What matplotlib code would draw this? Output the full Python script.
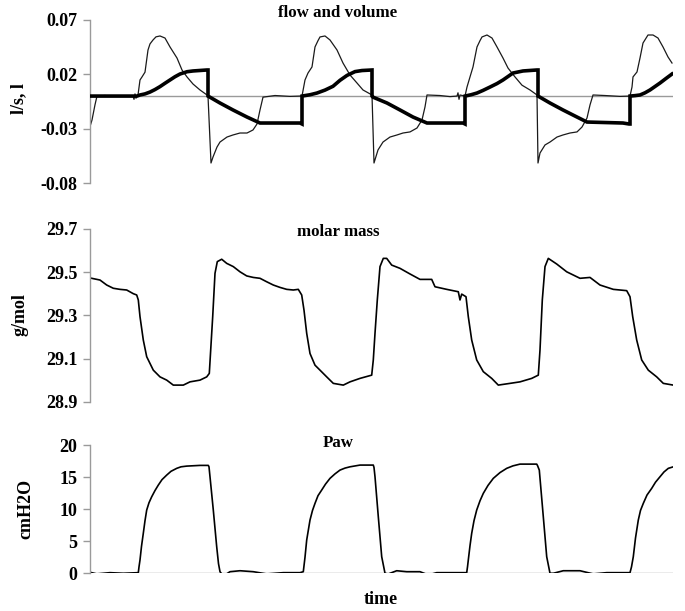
import matplotlib
matplotlib.use("Agg")
import matplotlib.pyplot as plt

# ---------------- data (time in arbitrary units) ----------------
flow_t = [0, 2, 5, 7, 15, 25, 35, 43, 44, 45, 46, 47, 48, 50, 52, 55, 58, 60, 63, 66, 70, 75, 80, 87, 92, 97,
          103, 110, 117, 118, 121, 123, 127, 130, 137, 143, 150, 157, 163, 167, 170, 173, 185, 200, 210,
          212, 215, 218, 222, 225, 228, 230, 235, 240, 247, 253, 260, 267, 273, 282, 284, 288, 293, 300, 307,
          313, 320, 327, 332, 335, 337, 350, 360, 367, 368, 369, 370, 375, 377, 380, 383, 387, 390, 392, 397,
          402, 407, 413, 418, 425, 432, 440, 447, 448, 450, 455, 460, 467, 473, 480, 487, 492, 497, 500,
          503, 515, 530, 540, 542, 543, 547, 550, 553, 558, 563, 568, 573, 578, 582]
flow_v = [-0.028, -0.022, -0.008, 0.0, 0.0005, -0.0003, 0.0003, 0.0, -0.003, 0.002, -0.002, 0.0, 0.001,
          0.0148, 0.0176, 0.022, 0.0424, 0.048, 0.0516, 0.0545, 0.0553, 0.0534, 0.0452, 0.035, 0.024, 0.0176,
          0.0111, 0.0056, 0.001, 0.0, -0.0616, -0.0561, -0.0469, -0.0423, -0.0377, -0.0358, -0.034,
          -0.034, -0.0312, -0.0257, -0.0128, -0.001, 0.0005, -0.0003, 0.0,
          0.0, 0.0148, 0.0212, 0.0268, 0.0452, 0.051, 0.0544, 0.0553, 0.0516, 0.0424, 0.0304, 0.0194, 0.012,
          0.0056, 0.001, -0.0616, -0.0496, -0.0423, -0.0377, -0.0358, -0.034, -0.033, -0.0294, -0.022,
          -0.010, 0.001, 0.0005, -0.0005, 0.0, 0.003, -0.003, 0.001, 0.0, 0.0083, 0.0176, 0.0268, 0.0452,
          0.051, 0.0544, 0.0562, 0.0534, 0.0452, 0.035, 0.0258, 0.0176, 0.010, 0.0056, 0.001, -0.0616, -0.0524,
          -0.045, -0.0423, -0.0377, -0.0358, -0.034, -0.033, -0.0285, -0.0202, -0.0082, 0.001, 0.0005,
          -0.0003, 0.0, 0.0083, 0.0176, 0.0222, 0.035, 0.0488, 0.0562, 0.0562, 0.0534, 0.0452, 0.036, 0.0304]

volume_t = [0, 47, 50, 55, 60, 65, 70, 75, 80, 85, 90, 97, 103, 117, 118, 118, 130, 143, 157, 170, 177, 210,
            212, 212, 220, 227, 235, 243, 250, 257, 265, 272, 282, 282, 283, 297, 310, 323, 337, 373, 375, 375,
            381, 387, 393, 400, 407, 413, 423, 433, 447, 448, 448, 460, 473, 487, 497, 533, 539, 540, 540,
            545, 550, 555, 560, 565, 570, 576, 582]
volume_v = [0.0, 0.0, 0.001, 0.002, 0.0037, 0.006, 0.0087, 0.0118, 0.0148, 0.0178, 0.0203, 0.0224, 0.0231,
            0.024, 0.024, 0.0, -0.0064, -0.0128, -0.0193, -0.0248, -0.0248, -0.0248, -0.0257, 0.0,
            0.0012, 0.0028, 0.0055, 0.009, 0.0145, 0.019, 0.0225, 0.0235, 0.024, 0.0, -0.001, -0.0064,
            -0.0128, -0.0193, -0.0248, -0.0248, -0.0257, 0.0,
            0.0012, 0.0028, 0.0052, 0.0083, 0.0115, 0.0148, 0.0212, 0.0231, 0.024, 0.024, 0.0, -0.0064,
            -0.0128, -0.0193, -0.0239, -0.0248, -0.0257, -0.0257, 0.0,
            0.0004, 0.001, 0.003, 0.0056, 0.0088, 0.012, 0.0162, 0.0203]

molar_t = [1.7, 10, 16.7, 23.3, 30, 36.7, 43.3, 46.7, 48.3, 50, 53.3, 56.7, 63.3, 70, 76.7, 83.3, 93.3,
           100, 110, 116.7, 119.3, 120.7, 122.7, 125, 127.3, 131.7, 136.7, 143.3, 150, 156.7, 163.3, 170,
           176.7, 183.3, 190, 196.7, 203.3, 208.3, 211.7, 214, 216.7, 220, 225, 230, 236.7, 243.3, 253.3,
           260, 270, 281.7, 283.3, 285, 287.3, 290, 293.3, 296.7, 301.7, 310, 320, 330, 341.7, 345, 356.7,
           368.3, 370, 371.7, 376, 378.3, 381.7, 386.7, 393.3, 401.7, 408.3, 420, 430, 441.7, 448.3, 450,
           452.3, 455, 458.3, 466.7, 476.7, 490, 500, 510, 523.3, 536.7, 540, 542.7, 546.7, 551.7, 558.3,
           566.7, 573.3, 583.3]
molar_v = [29.471, 29.463, 29.44, 29.425, 29.42, 29.417, 29.40, 29.394, 29.371, 29.294, 29.186, 29.109,
           29.047, 29.016, 29.001, 28.978, 28.978, 28.993, 29.001, 29.016, 29.032, 29.14, 29.294, 29.494,
           29.548, 29.559, 29.54, 29.525, 29.501, 29.482, 29.475, 29.471, 29.455, 29.44, 29.429, 29.42,
           29.417, 29.42, 29.394, 29.324, 29.217, 29.124, 29.07, 29.047, 29.016, 28.986, 28.978, 28.993,
           29.009, 29.024, 29.094, 29.217, 29.371, 29.525, 29.563, 29.563, 29.532, 29.517, 29.491, 29.466,
           29.466, 29.432, 29.42, 29.409, 29.371, 29.398, 29.386, 29.294, 29.186, 29.094, 29.04, 29.009,
           28.978, 28.986, 28.993, 29.009, 29.024, 29.14, 29.371, 29.525, 29.563, 29.537, 29.501, 29.471,
           29.475, 29.44, 29.42, 29.414, 29.386, 29.294, 29.186, 29.094, 29.047, 29.016, 28.986, 28.978]

paw_t = [1.7, 6.7, 20, 33.3, 48.3, 49, 50, 51.5, 53.3, 55, 56.7, 59, 61.7, 65, 68.3, 72, 76.7, 81, 86.7,
         91, 96.7, 110, 118.3, 119, 120, 123.3, 126.7, 128.5, 130, 133.3, 140, 150, 163.3, 176.7, 193.3,
         210, 213.3, 215, 216.7, 220, 222.5, 225, 228, 231.7, 235.5, 240, 245, 250, 255, 260, 270, 283.3,
         284, 285, 288.3, 291.7, 295, 298.3, 306.7, 316.7, 330, 338.3, 346.7, 376.7, 377.5, 378.3, 380,
         381.7, 384, 386.7, 390, 393.3, 398, 403.3, 410, 416.7, 423, 430, 446.7, 447.5, 449.3, 453.3,
         456.7, 460, 463.3, 473.3, 490, 503.3, 516.7, 540, 541.5, 543.3, 545.5, 548.3, 550.5, 553.3, 557,
         561.7, 565.5, 570, 574, 578.3, 583.3]
paw_v = [0.1, -0.1, 0.1, 0.0, 0.1, 1.0, 2.07, 4.2, 6.23, 8.2, 9.86, 11.0, 11.93, 12.9, 13.75, 14.6, 15.31,
         15.9, 16.36, 16.6, 16.71, 16.82, 16.82, 16.6, 15.05, 9.86, 4.14, 1.5, 0.25, -0.42, 0.25, 0.4, 0.25,
         -0.1, 0.1, 0.1, 0.25, 2.5, 5.19, 8.3, 9.8, 10.9, 12.1, 12.98, 13.9, 14.8, 15.5, 16.09, 16.4, 16.6,
         16.87, 16.87, 16.5, 15.05, 8.82, 2.59, 0.0, -0.1, 0.4, 0.25, 0.25, -0.26, 0.1, 0.1, 1.0, 2.07,
         4.3, 6.23, 8.2, 9.86, 11.3, 12.46, 13.7, 14.8, 15.7, 16.36, 16.75, 17.02, 17.02, 16.8, 16.09,
         8.82, 2.59, 0.0, 0.0, 0.4, 0.4, -0.1, 0.1, 0.1, 1.0, 2.59, 5.5, 8.3, 9.8, 10.9, 12.2, 13.24,
         14.2, 15.05, 15.8, 16.36, 16.6]

flow_ticks = [-0.08, -0.03, 0.02, 0.07]
flow_ticklabels = ["-0.08", "-0.03", "0.02", "0.07"]
molar_ticks = [28.9, 29.1, 29.3, 29.5, 29.7]
molar_ticklabels = ["28.9", "29.1", "29.3", "29.5", "29.7"]
paw_ticks = [0, 5, 10, 15, 20]
paw_ticklabels = ["0", "5", "10", "15", "20"]

titles = ["flow and volume", "molar mass", "Paw"]
ylabels = ["l/s, l", "g/mol", "cmH2O"]
xlabel = "time"

# ---------------- figure ----------------
W, H = 685, 611
fig = plt.figure(figsize=(W / 100, H / 100), dpi=100)
serif = "Liberation Serif"
FS_TICK = 13
FS = 12.2
GRAY = "#9a9a9a"

def px_axes(x0, x1, ytop, ybot):
    return fig.add_axes([x0 / W, 1 - ybot / H, (x1 - x0) / W, (ybot - ytop) / H])

ax1 = px_axes(90, 673, 20, 183)
ax2 = px_axes(90, 673, 228.7, 402)
ax3 = px_axes(90, 673, 445, 573.3)

for ax in (ax1, ax2, ax3):
    ax.set_xlim(0, 583)
    for s in ("top", "right", "bottom"):
        ax.spines[s].set_visible(False)
    ax.spines["left"].set_color(GRAY)
    ax.spines["left"].set_linewidth(1.0)
    ax.set_xticks([])
    ax.tick_params(axis="y", direction="out", length=5, width=1, color=GRAY, pad=4)
    ax.set_facecolor("none")

ax1.axhline(0, color=GRAY, lw=1.0, zorder=1)
ax1.plot(flow_t, flow_v, color="#1a1a1a", lw=0.9, zorder=2)
ax1.plot(volume_t, volume_v, color="black", lw=2.6, zorder=3, solid_joinstyle="miter")
ax1.set_ylim(-0.08, 0.07)
ax1.set_yticks(flow_ticks)
ax1.set_yticklabels(flow_ticklabels)

ax2.plot(molar_t, molar_v, color="black", lw=1.2)
ax2.set_ylim(28.9, 29.7)
ax2.set_yticks(molar_ticks)
ax2.set_yticklabels(molar_ticklabels)

ax3.axhline(0, color=GRAY, lw=1.0, zorder=1)
ax3.plot(paw_t, paw_v, color="black", lw=1.2, zorder=2)
ax3.set_ylim(0, 20)
ax3.set_yticks(paw_ticks)
ax3.set_yticklabels(paw_ticklabels)

for ax in (ax1, ax2, ax3):
    for lab in ax.get_yticklabels():
        lab.set_fontfamily(serif)
        lab.set_fontweight("bold")
        lab.set_fontsize(FS_TICK)

# titles
for txt, ypx in zip(titles, [13, 232, 443]):
    fig.text(338 / W, 1 - ypx / H, txt, ha="center", va="center",
             family=serif, weight="bold", fontsize=FS)

# y labels
for txt, xpx, ypx in zip(ylabels, [19, 20, 26], [98.5, 315, 509]):
    fig.text(xpx / W, 1 - ypx / H, txt, ha="center", va="center", rotation=90,
             family=serif, weight="bold", fontsize=FS_TICK)

fig.text(381 / W, 1 - 600 / H, xlabel, ha="center", va="center",
         family=serif, weight="bold", fontsize=FS_TICK)

fig.savefig("out.png", dpi=100)
